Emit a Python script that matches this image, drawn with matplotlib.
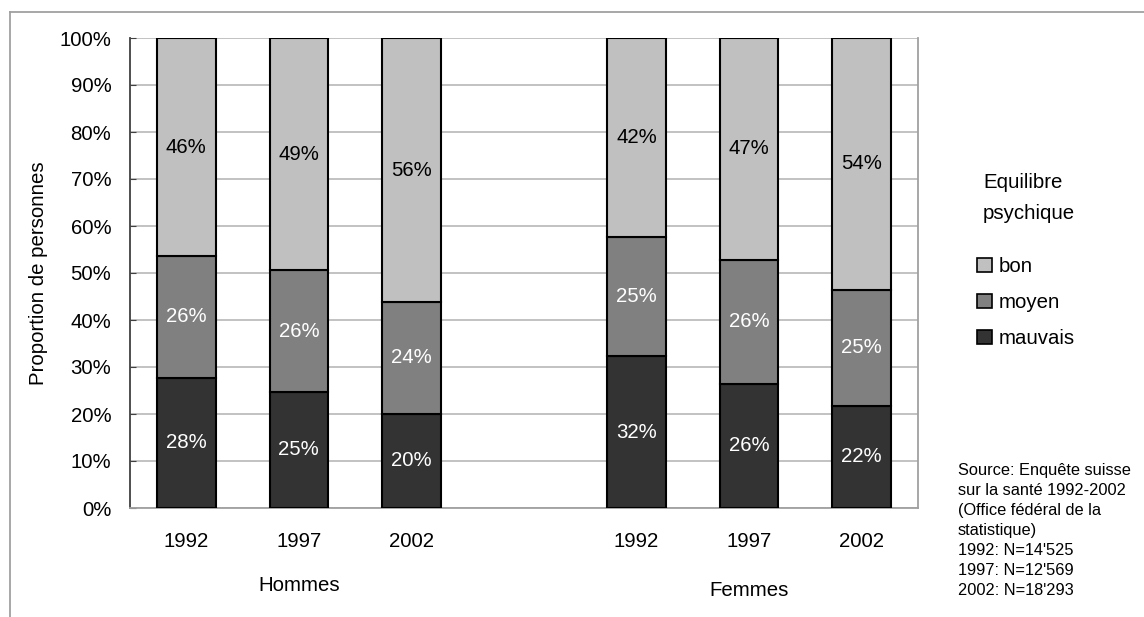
import matplotlib.pyplot as plt
import numpy as np
from matplotlib.lines import Line2D
from matplotlib.patches import Patch

plt.rcParams['font.family'] = ['Liberation Sans', 'DejaVu Sans']

years = ['1992', '1997', '2002', '1992', '1997', '2002']
groups = ['Hommes', 'Femmes']
# parts in percent, Hommes then Femmes
mauvais = [27.7, 24.7, 20.1, 32.3, 26.4, 21.8]
moyen = [25.9, 25.9, 23.7, 25.4, 26.4, 24.6]
bon = [46.4, 49.4, 56.2, 42.3, 47.2, 53.6]
source_lines = ["Source: Enquête suisse", "sur la santé 1992-2002",
                "(Office fédéral de la", "statistique)",
                "1992: N=14'525", "1997: N=12'569", "2002: N=18'293"]

colors = {'bon': '#c0c0c0', 'moyen': '#808080', 'mauvais': '#333333'}
FS = 14.7

W, H = 1144, 617
fig = plt.figure(figsize=(W / 100, H / 100), dpi=100)
ax = fig.add_axes([130 / W, (H - 508) / H, 788 / W, 470 / H])

x = np.array([0, 1, 2, 4, 5, 6])
mauvais = np.array(mauvais)
moyen = np.array(moyen)
bon = np.array(bon)

kw = dict(width=0.52, edgecolor='black', linewidth=1.5, zorder=3)
ax.bar(x, mauvais, color=colors['mauvais'], **kw)
ax.bar(x, moyen, bottom=mauvais, color=colors['moyen'], **kw)
ax.bar(x, bon, bottom=mauvais + moyen, color=colors['bon'], **kw)

for xi, a, b, c in zip(x, mauvais, moyen, bon):
    ax.text(xi, a / 2, f'{a:.0f}%', ha='center', va='center', color='white', fontsize=FS, zorder=4)
    ax.text(xi, a + b / 2, f'{b:.0f}%', ha='center', va='center', color='white', fontsize=FS, zorder=4)
    ax.text(xi, a + b + c / 2, f'{c:.0f}%', ha='center', va='center', color='black', fontsize=FS, zorder=4)

ax.set_xlim(-0.5, 6.5)
ax.set_ylim(0, 100)
ax.set_yticks(np.arange(0, 101, 10))
ax.set_yticklabels([f'{v}%' for v in range(0, 101, 10)], fontsize=FS)
ax.set_xticks(x)
ax.set_xticklabels(years, fontsize=FS)
ax.tick_params(axis='x', length=0, pad=17)
ax.tick_params(axis='y', direction='in', length=4, color='#404040', pad=13.5)
ax.yaxis.grid(True, color='#b8b8b8', linewidth=1.2, zorder=0)
ax.set_axisbelow(True)

ax.spines['top'].set_visible(False)
ax.spines['left'].set_color('#404040')
ax.spines['bottom'].set_color('#a0a0a0')
ax.spines['right'].set_color('#a0a0a0')
for s in ('left', 'bottom', 'right'):
    ax.spines[s].set_linewidth(1.3)

ax.set_ylabel('Proportion de personnes', fontsize=FS, labelpad=8)

# group labels under the years
ax.text(1, -16.5, groups[0], ha='center', va='center', fontsize=FS, clip_on=False)
ax.text(5, -17.5, groups[1], ha='center', va='center', fontsize=FS, clip_on=False)

# legend
fig.text(983 / W, 1 - 198 / H, 'Equilibre\npsychique', ha='left', va='center', fontsize=FS, linespacing=1.75)
handles = [Patch(facecolor=colors[k], edgecolor='black', linewidth=1.2) for k in ('bon', 'moyen', 'mauvais')]
fig.legend(handles, ['bon', 'moyen', 'mauvais'], loc='upper left',
           bbox_to_anchor=(959 / W, 1 - 239 / H), frameon=False, fontsize=FS,
           handlelength=0.7, handleheight=0.7, handletextpad=0.35, labelspacing=0.82)

fig.text(958 / W, 1 - 463 / H, '\n'.join(source_lines), ha='left', va='top',
         fontsize=11.8, linespacing=1.42)

# outer frame
fig.add_artist(Line2D([10 / W, 1], [1 - 12 / H, 1 - 12 / H], color='#a0a0a0', linewidth=1.3))
fig.add_artist(Line2D([10 / W, 10 / W], [0, 1 - 12 / H], color='#a0a0a0', linewidth=1.3))

fig.savefig('out.png', dpi=100)
